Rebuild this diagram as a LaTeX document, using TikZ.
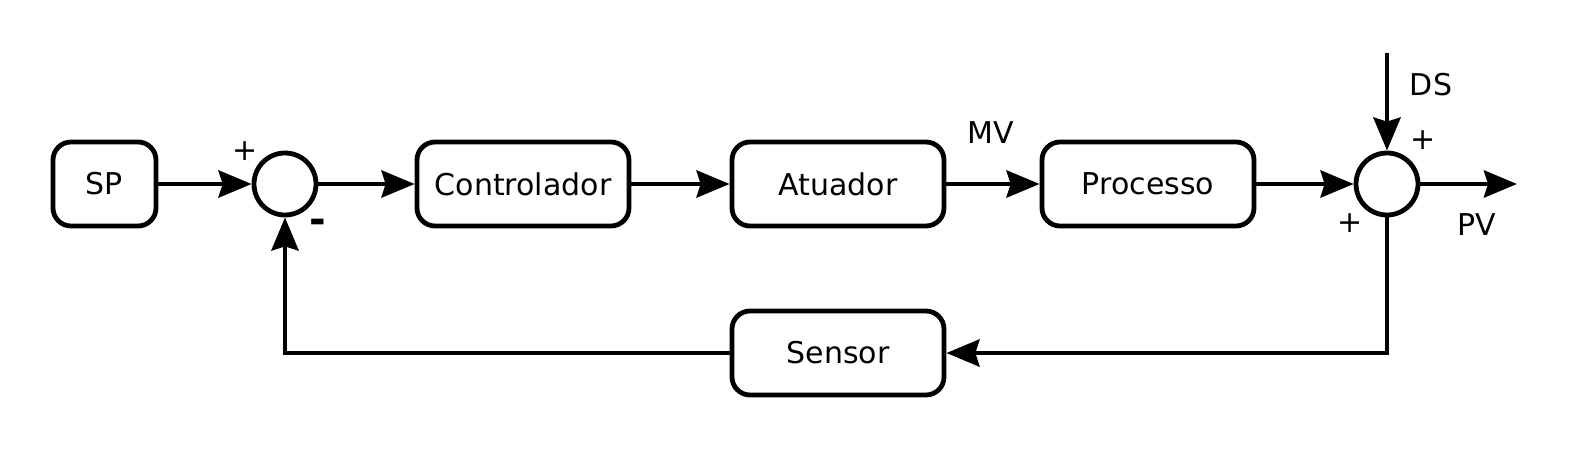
\documentclass[tikz,border=0pt]{standalone}
\usepackage{fontspec}
\setmainfont{DejaVu Sans}
\usetikzlibrary{arrows.meta}
\begin{document}
\begin{tikzpicture}[x=0.5pt,y=-0.5pt,
  blk/.style={draw, line width=2.4pt, rounded corners=9pt, minimum height=42pt, minimum width=106pt, inner sep=0pt, font=\fontsize{15}{18}\selectfont},
  sumj/.style={draw, circle, line width=2.4pt, minimum size=31pt, inner sep=0pt},
  arr/.style={line width=2.4pt, -{Stealth[length=16.5pt, width=13.5pt, inset=2pt]}},
  lbl/.style={font=\fontsize{15}{18}\selectfont, inner sep=0pt}]
\useasboundingbox (0,0) rectangle (1590,466);
\node[blk, minimum width=51.5pt] (sp) at (104.5,184) {SP};
\node[sumj] (s1) at (285,184) {};
\node[blk] (ctl) at (523,184) {Controlador};
\node[blk] (atu) at (838,184) {Atuador};
\node[blk] (pro) at (1148,184) {Processo};
\node[sumj] (s2) at (1387,184) {};
\node[blk] (sen) at (838,353) {Sensor};
\coordinate (ds) at (1387,53);
\coordinate (pv) at (1517,184);
\draw[arr] (sp) -- (s1);
\draw[arr] (s1) -- (ctl);
\draw[arr] (ctl) -- (atu);
\draw[arr] (atu) -- (pro);
\draw[arr] (pro) -- (s2);
\draw[arr] (ds) -- (s2);
\draw[arr] (s2) -- (pv);
\draw[arr] (s2.south) |- (sen.east);
\draw[arr] (sen.west) -| (s1.south);
\node[lbl] (p1) at (245,151) {+};
\node[lbl, font=\fontsize{20}{24}\selectfont\bfseries] (m1) at (318,226) {-};
\node[lbl] (mv) at (991,133) {MV};
\node[lbl] (dsl) at (1431,85) {DS};
\node[lbl] (p2) at (1423,140) {+};
\node[lbl] (p3) at (1350,223) {+};
\node[lbl] (pvl) at (1477,225) {PV};
\end{tikzpicture}
\end{document}
